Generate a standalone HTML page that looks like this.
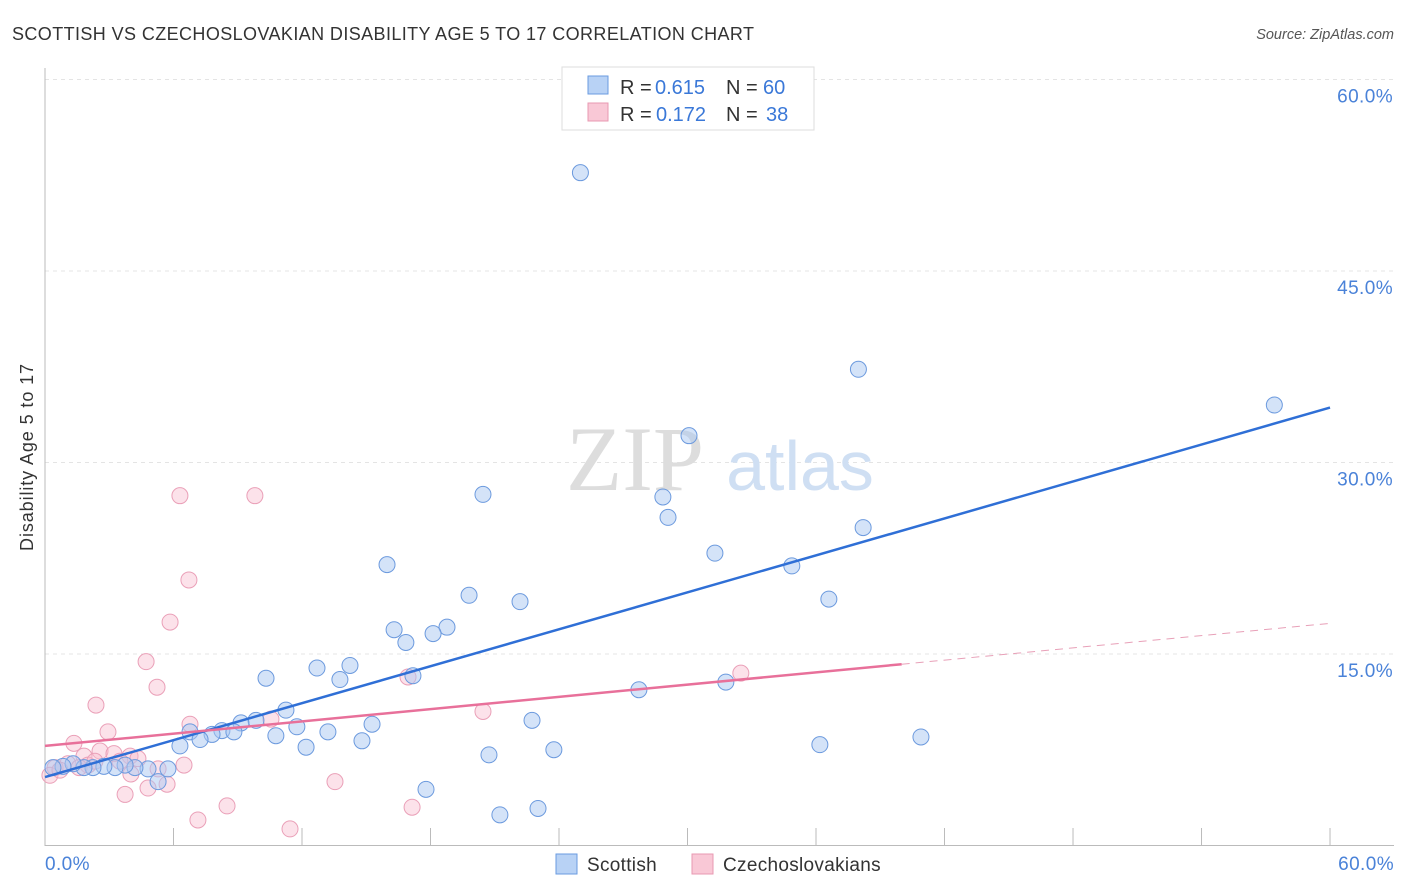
<!DOCTYPE html>
<html><head><meta charset="utf-8"><style>
body{margin:0;background:#fff;font-family:"Liberation Sans",sans-serif}
svg{display:block}
</style></head><body>
<svg id="chart" width="1406" height="892">
<text x="12" y="40" font-size="18" letter-spacing="0.4" fill="#333">SCOTTISH VS CZECHOSLOVAKIAN DISABILITY AGE 5 TO 17 CORRELATION CHART</text>
<text x="1394" y="39" font-size="14.5" fill="#555" font-style="italic" text-anchor="end">Source: ZipAtlas.com</text>
<text x="33" y="457" font-size="18" letter-spacing="0.9" fill="#333" text-anchor="middle" transform="rotate(-90 33 457)">Disability Age 5 to 17</text>
<g id="grid"></g>
<g>
<text x="635" y="490" font-size="92" fill="#ddd" font-family="Liberation Serif,serif" text-anchor="middle">ZIP</text>
<text x="800" y="490" font-size="70" fill="#cfdff3" text-anchor="middle">atlas</text>
</g>
<g id="axes"></g>
<g id="pink"></g><g id="blue"></g><g id="lines"></g>
<g>
<rect x="562" y="67" width="252" height="63" fill="#fff" stroke="#ddd"/>
<rect x="588" y="76" width="20" height="18" fill="#b8d2f5" stroke="#6a9be0"/>
<rect x="588" y="103" width="20" height="18" fill="#f9c8d6" stroke="#e899b2"/>
<g font-size="20" fill="#333">
<text x="620" y="94">R = </text>
<text x="655" y="94" fill="#3a78d8">0.615</text>
<text x="726" y="94">N = </text>
<text x="763" y="94" fill="#3a78d8">60</text>
<text x="620" y="121">R = </text>
<text x="656" y="121" fill="#3a78d8">0.172</text>
<text x="726" y="121">N = </text>
<text x="766" y="121" fill="#3a78d8">38</text>
</g>
</g>
<g>
<rect x="556" y="854" width="21" height="20" fill="#b8d2f5" stroke="#6a9be0"/>
<text x="587" y="871" font-size="19" letter-spacing="0.3" fill="#333">Scottish</text>
<rect x="692" y="854" width="21" height="20" fill="#f9c8d6" stroke="#e899b2"/>
<text x="723" y="871" font-size="19" letter-spacing="0.3" fill="#333">Czechoslovakians</text>
</g>
</svg>
<script>
const yTicks=[15,30,45,60];
const xTickLabels=["0.0%","60.0%"];
const scotX=[25.0,37.98,57.4,30.07,20.45,28.85,29.09,38.2,31.28,34.87,15.97,19.8,22.18,36.6,16.3,18.77,18.12,16.85,12.7,14.24,10.32,13.77,17.18,27.73,31.79,11.25,9.85,9.15,22.74,15.27,11.76,8.26,8.82,7.8,6.77,10.78,13.21,7.24,6.3,12.19,14.8,23.76,36.18,40.9,20.73,5.74,4.81,5.28,4.2,3.74,3.27,2.75,2.24,1.82,1.31,0.84,0.37,17.79,21.24,23.02];
const scotY=[52.7,37.3,34.5,32.1,27.5,27.3,25.7,24.9,22.9,21.9,22.0,19.6,19.1,19.3,16.9,17.1,16.6,15.9,13.9,14.1,13.1,13.0,13.3,12.2,12.8,10.6,9.8,9.6,9.8,9.5,9.3,9.0,8.9,8.7,8.9,8.6,8.9,8.3,7.8,7.7,8.2,7.5,7.9,8.5,7.1,6.0,6.0,5.0,6.1,6.3,6.1,6.2,6.1,6.1,6.4,6.2,6.1,4.4,2.4,2.9];
const czX=[6.3,9.8,6.72,5.84,4.72,5.23,2.38,32.49,16.95,6.77,10.55,20.45,2.94,1.35,1.82,2.57,3.22,3.97,4.34,3.5,6.49,1.07,0.47,0.23,5.28,4.01,4.81,3.74,5.7,13.54,17.14,8.5,7.14,11.44,0.7,2.01,1.59,2.33];
const czY=[27.4,27.4,20.8,17.5,14.4,12.4,11.0,13.5,13.2,9.5,9.9,10.5,8.9,8.0,7.0,7.4,7.2,7.0,6.8,6.6,6.3,6.4,6.1,5.5,6.0,5.6,4.5,4.0,4.8,5.0,3.0,3.1,2.0,1.3,5.9,6.3,6.1,6.6];
const blueLine=[5.36,34.3];
const pinkLine=[7.8,17.4];
const pinkSolidEnd=40;
const NS="http://www.w3.org/2000/svg";
const X=v=>45+v*21.417, Y=v=>845.5-v*12.767;
function mk(tag,attrs,parent){const e=document.createElementNS(NS,tag);for(const k in attrs)e.setAttribute(k,attrs[k]);document.getElementById(parent).appendChild(e);return e;}
yTicks.forEach(t=>{
 const l=mk('line',{x1:45,x2:1394,y1:Y(t),y2:Y(t),stroke:'#e4e4e4','stroke-dasharray':'4,4'},'grid');
 
 
 const tx=mk('text',{x:1393,y:Y(t)+23,'font-size':19,'letter-spacing':0.4,fill:'#4a82d8','text-anchor':'end'},'grid');
 tx.textContent=t.toFixed(1)+'%';
 
 
});
const ya=mk('line',{x1:45,x2:45,y1:68,y2:846,stroke:'#bbb'},'axes');


const xa=mk('line',{x1:45,x2:1394,y1:845.5,y2:845.5,stroke:'#bbb'},'axes');


for(let i=0;i<=10;i++){const tk=mk('line',{x1:X(i*6),x2:X(i*6),y1:828,y2:846,stroke:'#bbb'},'axes');
 
 }
[[0,xTickLabels[0],'start',45],[60,xTickLabels[1],'end',1394]].forEach(a=>{
 const t=mk('text',{x:a[3],y:870,'font-size':19,'letter-spacing':0.4,fill:'#4a82d8','text-anchor':a[2]},'axes');t.textContent=a[1];
 
 
});
czX.forEach((x,i)=>{const c=mk('circle',{cx:X(x),cy:Y(czY[i]),r:8,fill:'rgba(249,190,208,0.45)',stroke:'#eaa0b8','stroke-width':1},'pink');
 
 });
scotX.forEach((x,i)=>{const c=mk('circle',{cx:X(x),cy:Y(scotY[i]),r:8,fill:'rgba(170,200,242,0.5)',stroke:'#6c9ade','stroke-width':1},'blue');
 
 });
const pv=x=>pinkLine[0]+(pinkLine[1]-pinkLine[0])*x/60;
const bl=mk('line',{x1:X(0),y1:Y(blueLine[0]),x2:X(60),y2:Y(blueLine[1]),stroke:'#2f6fd6','stroke-width':2.5},'lines');


const pl=mk('line',{x1:X(0),y1:Y(pv(0)),x2:X(pinkSolidEnd),y2:Y(pv(pinkSolidEnd)),stroke:'#e8709a','stroke-width':2.5},'lines');


const pd=mk('line',{x1:X(pinkSolidEnd),y1:Y(pv(pinkSolidEnd)),x2:X(60),y2:Y(pv(60)),stroke:'#e8a0b8','stroke-width':1,'stroke-dasharray':'8,6'},'lines');


</script>
</body></html>
